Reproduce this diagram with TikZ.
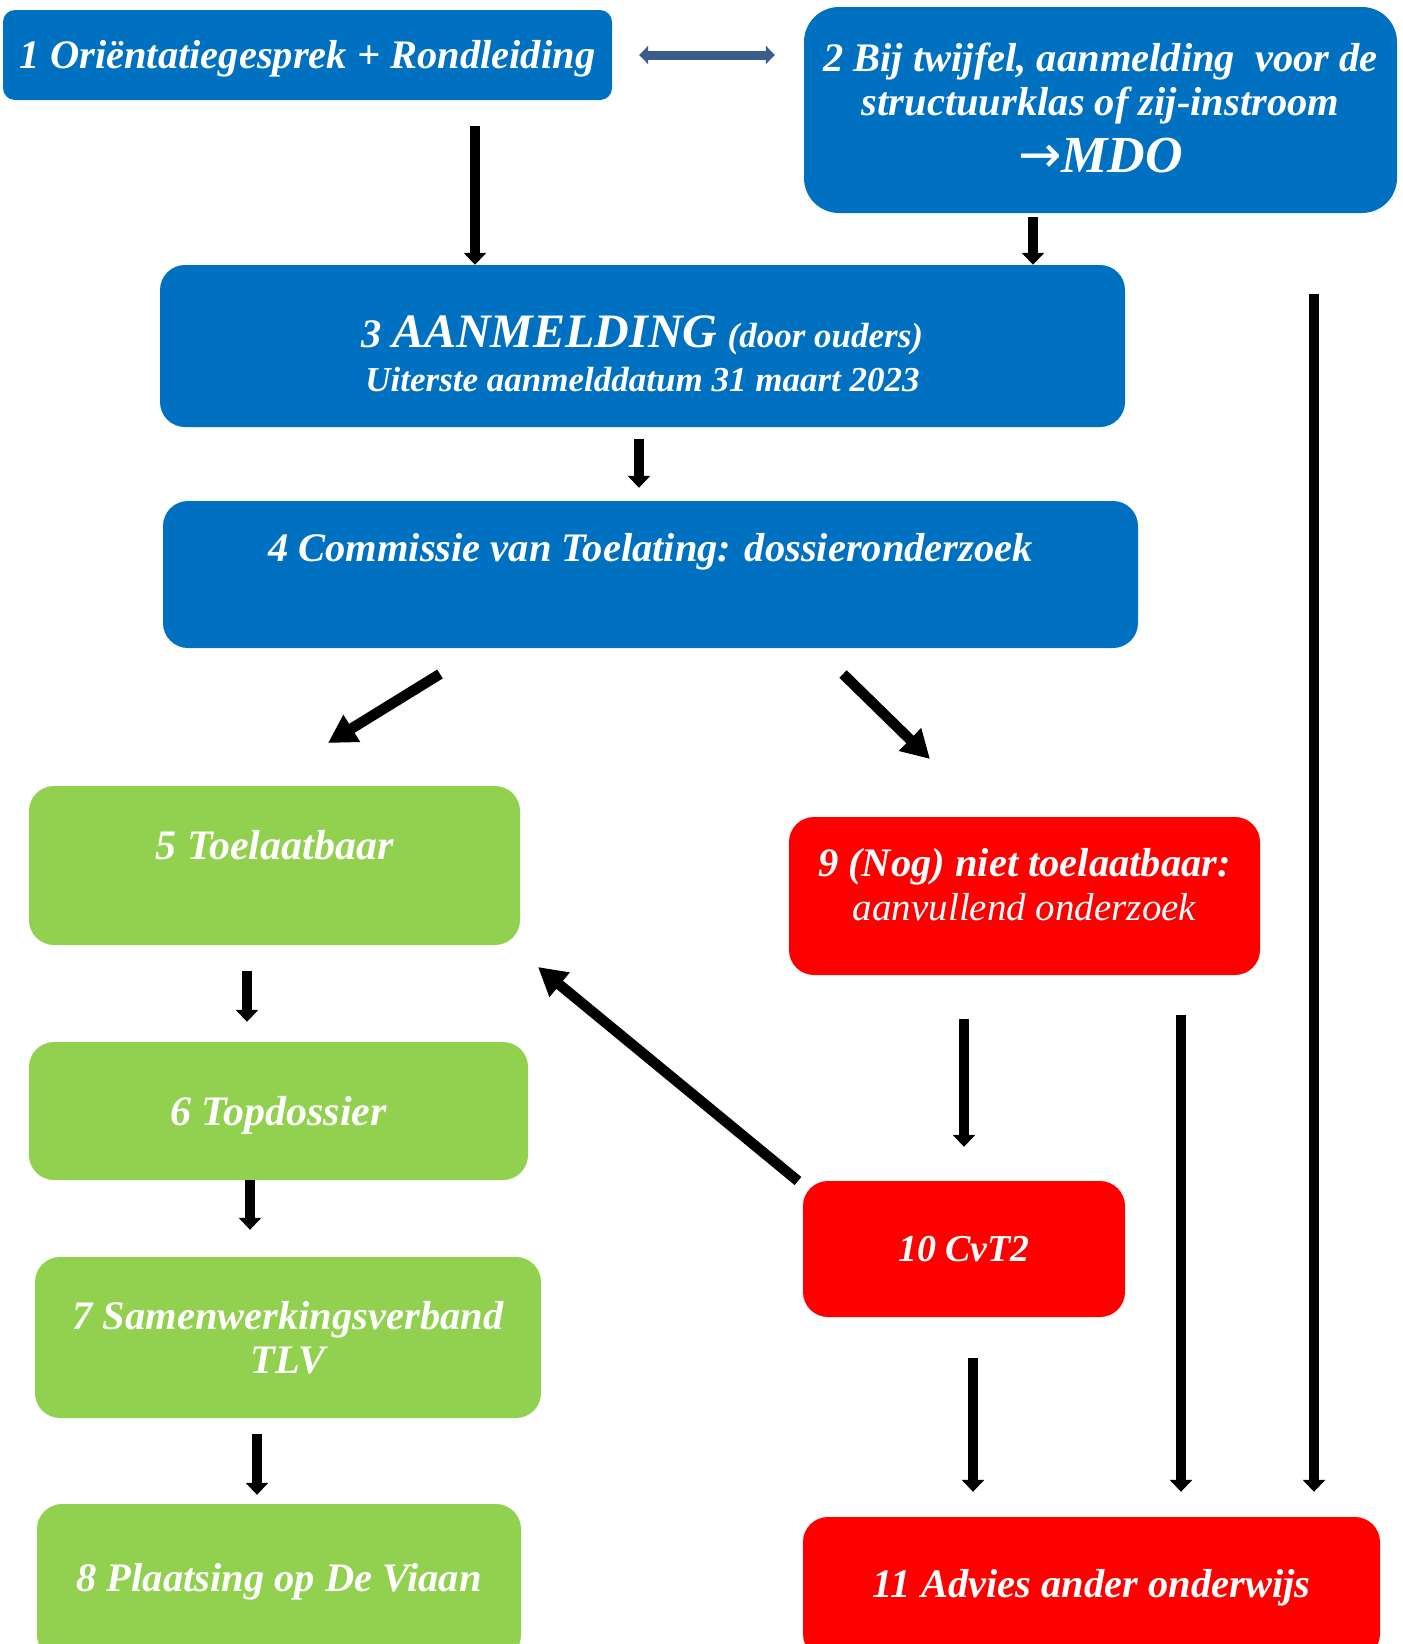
\documentclass[tikz,border=0pt]{standalone}
\usepackage{fontspec}
\setmainfont{Liberation Serif}
\newfontfamily\arrowfont{DejaVu Sans}
\usetikzlibrary{arrows.meta}

\definecolor{boxblue}{HTML}{0070C0}
\definecolor{boxgreen}{HTML}{92D050}
\definecolor{boxred}{HTML}{FF0000}
\definecolor{linkblue}{HTML}{3A5E8C}

\newcommand\lift[2]{\raisebox{#1}[\height][\depth]{#2}}

\tikzset{
  box/.style={rounded corners=25pt, text=white, align=center, inner sep=0pt,
    font=\fontsize{40.5}{44}\selectfont\bfseries\itshape},
  bluebox/.style={box, fill=boxblue},
  greenbox/.style={box, fill=boxgreen},
  redbox/.style={box, fill=boxred},
  arr/.style={line width=10.5pt, -{Triangle[width=22pt,length=12pt]}},
  bigarr/.style={line width=10.5pt, -{Triangle[width=30pt,length=28pt]}},
  link/.style={linkblue, line width=9pt,
    {Triangle[width=18pt,length=9pt]}-{Triangle[width=18pt,length=9pt]}}
}

\begin{document}
\begin{tikzpicture}[x=1pt, y=-1pt]
      \clip (0,0) rectangle (1403,1644);
      % blue boxes
      \node[bluebox, rounded corners=12pt, minimum width=609pt, minimum height=90pt] (b1) at (307.5,55)
        {\lift{-4pt}{1 Oriëntatiegesprek + Rondleiding}};
      \node[bluebox, rounded corners=35pt, minimum width=593pt, minimum height=206pt] (b2) at (1100.5,110)
        {\lift{-3pt}{\begin{tabular}{@{}c@{}}2 Bij twijfel, aanmelding\ \ voor de\\ structuurklas of zij-instroom\\[9pt]
         {\fontsize{52}{56}\selectfont{\arrowfont\mdseries\upshape →}MDO}\end{tabular}}};
      \node[bluebox, minimum width=965pt, minimum height=162pt] (b3) at (642.5,346)
        {\lift{-14pt}{\begin{tabular}{@{}c@{}}3 {\fontsize{48}{52}\selectfont AANMELDING} {\fontsize{35}{38}\selectfont (door ouders)}\\[0pt]
         {\fontsize{35}{38}\selectfont Uiterste aanmelddatum 31 maart 2023}\end{tabular}}};
      \node[bluebox, minimum width=975pt, minimum height=147pt] (b4) at (650.5,574.5)
        {\lift{23pt}{4 Commissie van Toelating: dossieronderzoek}};
      % green boxes
      \node[greenbox, font=\fontsize{42}{44}\selectfont\bfseries\itshape, minimum width=491pt, minimum height=159pt] (b5) at (274.5,865.5)
        {\lift{20pt}{5 Toelaatbaar}};
      \node[greenbox, font=\fontsize{42}{44}\selectfont\bfseries\itshape, minimum width=499pt, minimum height=138pt] (b6) at (278.5,1111)
        {\lift{-4pt}{6 Topdossier}};
      \node[greenbox, minimum width=506pt, minimum height=161pt] (b7) at (288,1337.5)
        {7 Samenwerkingsverband\\ TLV};
      \node[greenbox, minimum width=484pt, minimum height=156pt] (b8) at (279,1582)
        {8 Plaatsing op De Viaan};
      % red boxes
      \node[redbox, minimum width=471pt, minimum height=158pt] (b9) at (1024.5,896)
        {\lift{6pt}{\begin{tabular}{@{}c@{}}9 (Nog) niet toelaatbaar:\\ {\mdseries\fontsize{39}{44}\selectfont aanvullend onderzoek}\end{tabular}}};
      \node[redbox, font=\fontsize{38}{44}\selectfont\bfseries\itshape, minimum width=322pt, minimum height=136pt] (b10) at (964,1249)
        {10 CvT2};
      \node[redbox, minimum width=577pt, minimum height=142pt] (b11) at (1091.5,1588)
        {11 Advies ander onderwijs};
      % arrow starts
      \coordinate (s13) at (475,126);
      \coordinate (s23) at (1033,217);
      \coordinate (s34) at (639,439);
      \coordinate (s45) at (440,674);
      \coordinate (e45) at (328,743);
      \coordinate (s49) at (843,674);
      \coordinate (e49) at (930,759);
      \coordinate (s56) at (247,971);
      \coordinate (s67) at (250,1180);
      \coordinate (s78) at (257,1434);
      \coordinate (s910) at (964,1019);
      \coordinate (s105) at (798,1181);
      \coordinate (e105) at (538,967);
      \coordinate (s1011) at (973,1358);
      \coordinate (s911) at (1181,1015);
      \coordinate (s211) at (1314,294);
      % connectors
      \draw[link, shorten <=27pt, shorten >=29pt] (b1.east) -- (b1.east -| b2.west);
      \draw[arr] (s13) -- (s13 |- b3.north);
      \draw[arr] (s23) -- (s23 |- b3.north);
      \draw[arr, shorten >=13pt] (s34) -- (s34 |- b4.north);
      \draw[bigarr] (s45) -- (e45);
      \draw[bigarr] (s49) -- (e49);
      \draw[arr, shorten >=20pt] (s56) -- (s56 |- b6.north);
      \draw[arr, shorten >=27pt] (s67) -- (s67 |- b7.north);
      \draw[arr, shorten >=9pt] (s78) -- (s78 |- b8.north);
      \draw[arr, shorten >=34pt] (s910) -- (s910 |- b10.north);
      \draw[bigarr] (s105) -- (e105);
      \draw[arr, shorten >=25pt] (s1011) -- (s1011 |- b11.north);
      \draw[arr, shorten >=25pt] (s911) -- (s911 |- b11.north);
      \draw[arr, shorten >=25pt] (s211) -- (s211 |- b11.north);
\end{tikzpicture}
\end{document}
